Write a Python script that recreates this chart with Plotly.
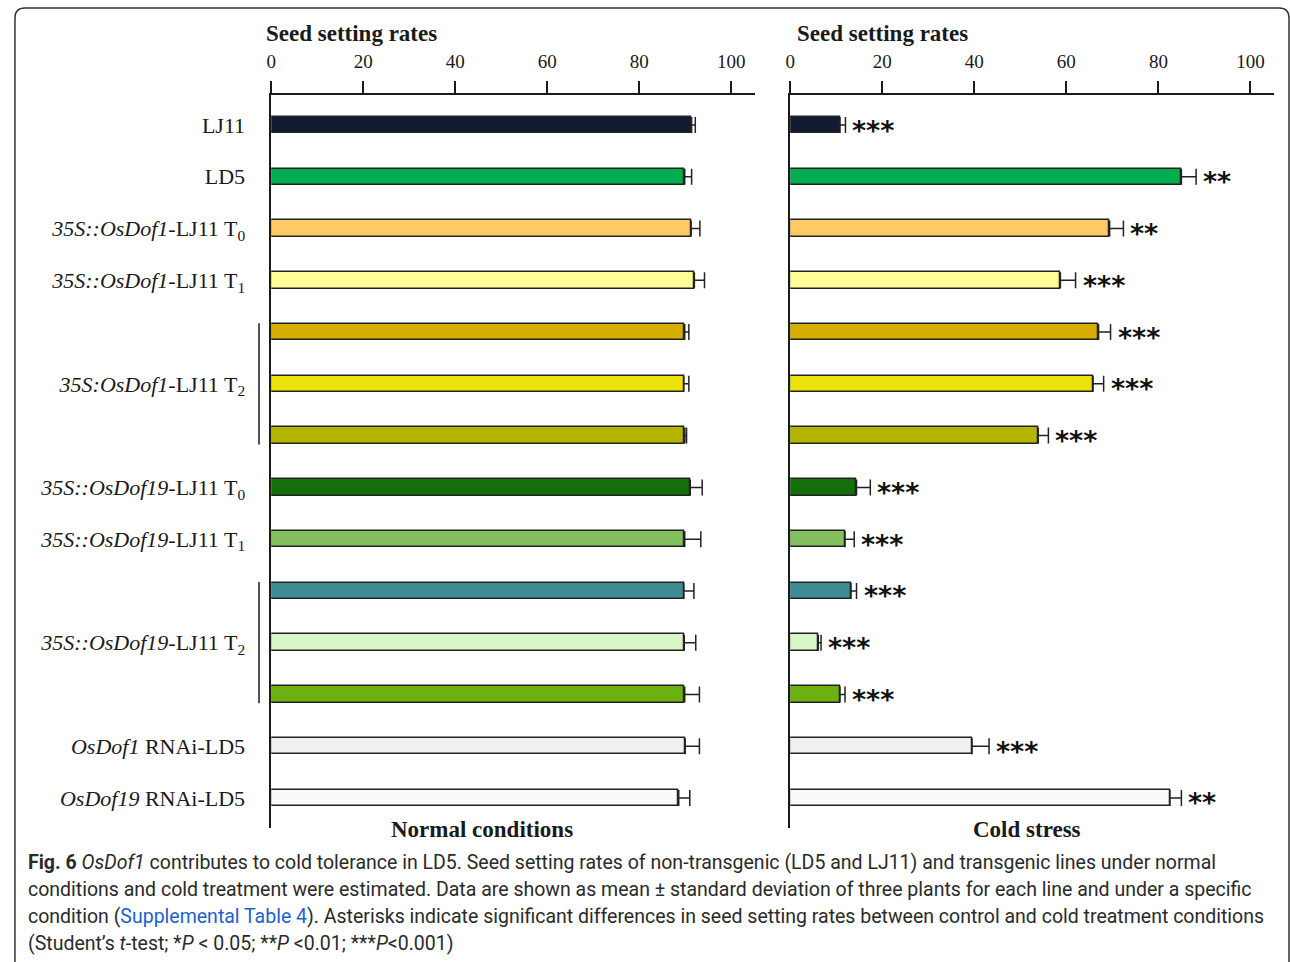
import plotly.graph_objects as go

# ---- data -------------------------------------------------------------
lines = [
    "LJ11", "LD5",
    "OsDof1 T0", "OsDof1 T1", "OsDof1 T2-a", "OsDof1 T2-b", "OsDof1 T2-c",
    "OsDof19 T0", "OsDof19 T1", "OsDof19 T2-a", "OsDof19 T2-b", "OsDof19 T2-c",
    "OsDof1 RNAi", "OsDof19 RNAi",
]
# axis labels; the three T2 lines of each construct share one label
label_lines = [
    "LJ11", "LD5", "OsDof1 T0", "OsDof1 T1", "OsDof1 T2-b",
    "OsDof19 T0", "OsDof19 T1", "OsDof19 T2-b", "OsDof1 RNAi", "OsDof19 RNAi",
]
label_text = [
    "LJ11",
    "LD5",
    "<i>35S::OsDof1</i>-LJ11 T<sub>0</sub>",
    "<i>35S::OsDof1</i>-LJ11 T<sub>1</sub>",
    "<i>35S:OsDof1</i>-LJ11 T<sub>2</sub>",
    "<i>35S::OsDof19</i>-LJ11 T<sub>0</sub>",
    "<i>35S::OsDof19</i>-LJ11 T<sub>1</sub>",
    "<i>35S::OsDof19</i>-LJ11 T<sub>2</sub>",
    "<i>OsDof1</i> RNAi-LD5",
    "<i>OsDof19</i> RNAi-LD5",
]
normal_rate = [91.4, 89.9, 91.3, 92.0, 89.9, 89.7, 89.9, 91.1, 89.9, 89.7, 89.8, 89.9, 90.0, 88.6]
normal_sd = [0.8, 1.5, 1.9, 2.2, 0.9, 1.1, 0.4, 2.6, 3.5, 2.2, 2.5, 3.2, 3.1, 2.4]
cold_rate = [10.8, 85.0, 69.4, 58.7, 67.0, 65.8, 53.9, 14.4, 11.9, 13.2, 6.1, 10.8, 39.5, 82.5]
cold_sd = [1.2, 3.2, 3.0, 3.3, 2.6, 2.3, 2.2, 3.0, 2.0, 1.2, 0.6, 1.1, 3.7, 2.5]
significance = ["***", "**", "**", "***", "***", "***", "***",
                "***", "***", "***", "***", "***", "***", "**"]
bar_colors = [
    "#121c30", "#00ad4f", "#ffc966", "#ffff99", "#d6ae00", "#ede10a", "#b5b500",
    "#146e0a", "#84c060", "#3d8b93", "#d8f7c8", "#6bb10f", "#f0f0f0", "#fafafa",
]
x_ticks = [0, 20, 40, 60, 80, 100]
t2_groups = [(4, 6), (9, 11)]   # index ranges bracketed on the left

# ---- layout helpers ---------------------------------------------------
W, H = 1290, 962


def px(x):
    return x / W


def py(y):
    return 1 - y / H


SERIF = "Liberation Serif, Times New Roman, serif"
INK = "#1a1a1a"
y_dom = [py(828), py(95)]
n = len(lines)
y_range = [n - 1 + 0.58, -0.58]

fig = go.Figure()

for axis_id, vals, sds in (("", normal_rate, normal_sd), ("2", cold_rate, cold_sd)):
    fig.add_trace(go.Bar(
        x=vals, y=lines, orientation="h",
        xaxis="x" + axis_id, yaxis="y" + axis_id,
        width=0.32,
        marker=dict(color=bar_colors, line=dict(color="#222222", width=1.5)),
        error_x=dict(type="data", symmetric=False, array=sds,
                     arrayminus=[0] * n, color="#222222", thickness=1.5, width=8),
        showlegend=False, hoverinfo="x+y",
    ))

axis_common = dict(
    side="top", range=[0, 105.2], tickvals=x_ticks, ticks="outside", ticklen=12,
    tickwidth=1.5, tickcolor=INK, showline=True, linecolor=INK, linewidth=1.5,
    showgrid=False, zeroline=False, ticklabelstandoff=6,
    tickfont=dict(family=SERIF, size=19, color=INK),
)
fig.update_layout(
    width=W, height=H,
    margin=dict(l=0, r=0, t=0, b=0),
    paper_bgcolor="white", plot_bgcolor="white",
    bargap=0,
    xaxis=dict(domain=[px(267.3), px(753)], anchor="y", **axis_common),
    xaxis2=dict(domain=[px(788.3), px(1274.3)], anchor="y2", **axis_common),
    yaxis=dict(
        domain=y_dom, anchor="x", range=y_range, type="category",
        categoryorder="array", categoryarray=lines,
        tickvals=label_lines, ticktext=label_text, ticks="",
        ticklabelstandoff=20, showline=True, linecolor=INK, linewidth=1.5,
        showgrid=False, zeroline=False,
        tickfont=dict(family=SERIF, size=22, color=INK),
    ),
    yaxis2=dict(
        domain=y_dom, anchor="x2", range=y_range, type="category",
        categoryorder="array", categoryarray=lines,
        showticklabels=False, ticks="", showline=True, linecolor=INK,
        linewidth=1.5, showgrid=False, zeroline=False,
    ),
)

# brackets for the T2 line groups
for a, b in t2_groups:
    fig.add_shape(type="line", xref="paper", yref="y", x0=px(255), x1=px(255),
                  y0=a - 0.17, y1=b + 0.17, line=dict(color=INK, width=1.5))

# significance marks beside the cold-stress bars
for cat, v, e, s in zip(lines, cold_rate, cold_sd, significance):
    fig.add_annotation(x=v + e, y=cat, xref="x2", yref="y2", text=s,
                       showarrow=False, xanchor="left", yanchor="middle",
                       xshift=5, yshift=-5,
                       font=dict(family="DejaVu Sans", size=27, color="#111111",
                                 weight="bold"))

# panel titles
title_font = dict(family=SERIF, size=23, color=INK, weight="bold")
for x0, txt in ((260, "Seed setting rates"), (793, "Seed setting rates")):
    fig.add_annotation(x=px(x0), y=py(34), xref="paper", yref="paper", text=txt,
                       showarrow=False, xanchor="left", yanchor="middle",
                       font=title_font)
for xc, txt in ((479, "Normal conditions"), (1025.5, "Cold stress")):
    fig.add_annotation(x=px(xc), y=py(829), xref="paper", yref="paper", text=txt,
                       showarrow=False, xanchor="center", yanchor="middle",
                       font=title_font)

# figure caption
caption = [
    "<b>Fig. 6</b> <i>OsDof1</i> contributes to cold tolerance in LD5. Seed setting rates of "
    "non-transgenic (LD5 and LJ11) and transgenic lines under normal",
    "conditions and cold treatment were estimated. Data are shown as mean ± standard "
    "deviation of three plants for each line and under a specific",
    "condition (<span style='color:#1f5fd1'>Supplemental Table 4</span>). Asterisks indicate "
    "significant differences in seed setting rates between control and cold treatment conditions",
    "(Student’s <i>t</i>-test; *<i>P</i> &lt; 0.05; **<i>P</i> &lt;0.01; ***<i>P</i>&lt;0.001)",
]
for i, txt in enumerate(caption):
    fig.add_annotation(x=px(21), y=py(862 + 27 * i), xref="paper", yref="paper",
                       text=txt, showarrow=False, xanchor="left", yanchor="middle",
                       font=dict(family="Roboto, sans-serif", size=19.5, color="#2a2a2a"))

# rounded frame around the figure
r = 10
x0, y0, x1, y1 = 10, 8, 1289, 975
frame = (f"M {px(x0)},{py(y1)} L {px(x0)},{py(y0 + r)} "
         f"Q {px(x0)},{py(y0)} {px(x0 + r)},{py(y0)} "
         f"L {px(x1 - r)},{py(y0)} Q {px(x1)},{py(y0)} {px(x1)},{py(y0 + r)} "
         f"L {px(x1)},{py(y1)}")
fig.add_shape(type="path", xref="paper", yref="paper", path=frame,
              line=dict(color="#333333", width=1.5))

fig.write_html("out.html")
